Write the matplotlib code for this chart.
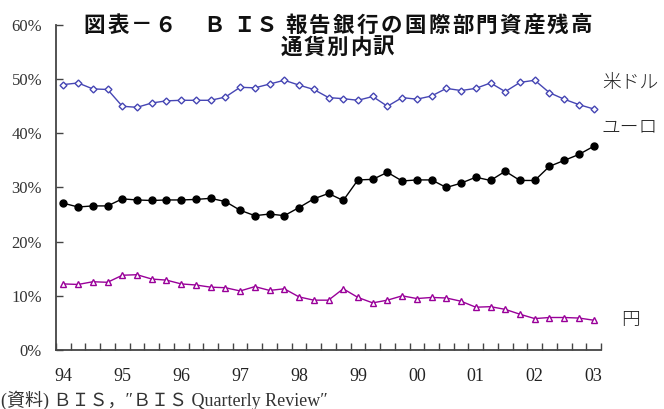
import matplotlib
matplotlib.use("Agg")
import matplotlib.pyplot as plt
import numpy as np

# Quarterly shares of international assets by currency, 1994Q1 - 2003Q1 (%)
usd = [49.0, 49.3, 48.2, 48.1, 45.0, 44.8, 45.6, 46.0, 46.1, 46.1,
       46.1, 46.7, 48.5, 48.4, 49.1, 49.8, 48.9, 48.1, 46.6, 46.4,
       46.1, 46.8, 45.0, 46.6, 46.3, 46.9, 48.3, 47.9, 48.3, 49.3,
       47.7, 49.4, 49.8, 47.5, 46.3, 45.3, 44.5]
eur = [27.1, 26.4, 26.6, 26.6, 27.9, 27.7, 27.6, 27.7, 27.7, 27.8,
       28.0, 27.4, 25.8, 24.8, 25.1, 24.8, 26.3, 27.9, 28.9, 27.6,
       31.4, 31.5, 32.8, 31.2, 31.4, 31.4, 30.0, 30.8, 31.9, 31.3,
       33.0, 31.3, 31.3, 33.9, 35.0, 36.1, 37.6]
jpy = [12.2, 12.1, 12.6, 12.5, 13.8, 13.9, 13.1, 12.9, 12.2, 12.0,
       11.6, 11.5, 10.9, 11.7, 11.0, 11.3, 9.8, 9.2, 9.2, 11.3,
       9.7, 8.7, 9.2, 10.0, 9.5, 9.7, 9.6, 9.0, 7.9, 8.0,
       7.5, 6.6, 5.8, 6.0, 6.0, 5.9, 5.5]
year_labels = ["94", "95", "96", "97", "98", "99", "00", "01", "02", "03"]
series_names = ["米ドル", "ユーロ", "円"]
title_line1_head = "図表－６"
title_line1_bis = "ＢＩＳ"
title_line1_tail = "報告銀行の国際部門資産残高"
title_line2 = "通貨別内訳"
source_note = "(資料) ＢＩＳ，″ＢＩＳ Quarterly Review″"

W, H = 664, 409
x = np.arange(len(usd))

fig = plt.figure(figsize=(W / 100, H / 100), dpi=100)
ax = fig.add_axes([56 / W, 59 / H, (601 - 56) / W, (350 - 25) / H])

c_usd = "#4646b4"
c_eur = "#000000"
c_jpy = "#990099"

ax.plot(x, usd, color=c_usd, lw=1.0, marker="D", ms=3.5,
        mfc="white", mec=c_usd, mew=1.0)
ax.plot(x, eur, color=c_eur, lw=1.0, marker="o", ms=5,
        mfc=c_eur, mec=c_eur)
ax.plot(x, jpy, color=c_jpy, lw=1.0, marker="^", ms=5,
        mfc="white", mec=c_jpy, mew=1.0)

ax.set_xlim(-0.5, len(usd) - 0.5)
ax.set_ylim(0, 60)

ax.spines["top"].set_visible(False)
ax.spines["right"].set_visible(False)
for s in ("left", "bottom"):
    ax.spines[s].set_color("#444444")
    ax.spines[s].set_linewidth(1.3)

ax.set_yticks(np.arange(0, 61, 10))
ax.set_yticklabels([f"{v}%" for v in range(0, 61, 10)])
ax.set_xticks(np.arange(-0.5, len(usd), 1.0), minor=True)
ax.set_xticks(np.arange(0, len(usd), 4))
ax.set_xticklabels(year_labels)

ax.tick_params(axis="y", direction="in", length=5, width=1.0, color="#444444",
               pad=10, labelsize=12, labelcolor="#333333")
ax.tick_params(axis="x", which="major", length=0, pad=13,
               labelsize=13, labelcolor="#222222")
ax.tick_params(axis="x", which="minor", direction="in", length=5,
               width=1.0, color="#444444")
for lab in ax.get_xticklabels() + ax.get_yticklabels():
    lab.set_fontfamily("Liberation Serif")


def px(xp, yp):
    """Pixel position (from the top-left corner) to figure fraction."""
    return xp / W, 1 - yp / H


# series labels at the right end
label_kw = dict(ha="center", va="center", fontsize=13.5,
                family="Noto Sans CJK JP", fontweight="light", color="#222222")
fig.text(*px(630, 83), series_names[0], **label_kw)
fig.text(*px(630, 128), series_names[1], **label_kw)
fig.text(*px(631, 320), series_names[2], **label_kw)

# title, laid out on a fixed character pitch
title_kw = dict(ha="center", va="center", fontsize=15.5, fontweight="bold",
                family="Noto Sans CJK JP", color="#111111")
for i, ch in enumerate(title_line1_head):
    fig.text(*px(94.5 + 23.5 * i, 25), ch, **title_kw)
for xc, ch in zip([214, 244, 266], title_line1_bis):
    fig.text(*px(xc, 25), ch, **title_kw)
for i, ch in enumerate(title_line1_tail):
    fig.text(*px(296 + 23.8 * i, 25), ch, **title_kw)
for i, ch in enumerate(title_line2):
    fig.text(*px(291.5 + 23 * i, 47), ch, **title_kw)

# source note
fig.text(*px(1, 400), source_note, ha="left", va="center", fontsize=13,
         family=["Liberation Serif", "Noto Sans CJK JP", "DejaVu Sans"],
         color="#333333")

fig.savefig("out.png", dpi=100)
